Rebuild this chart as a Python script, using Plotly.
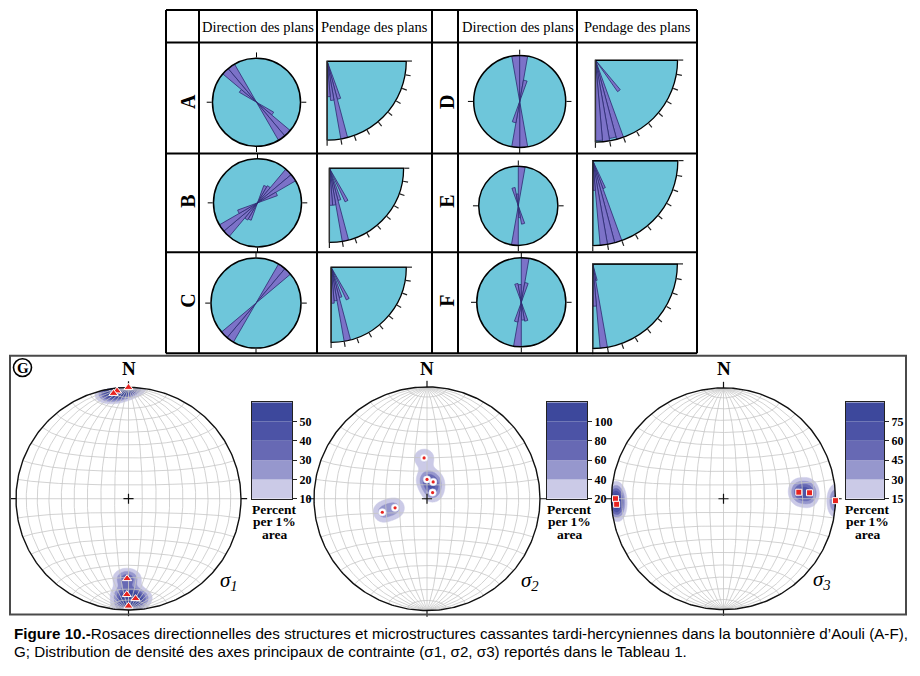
import numpy as np
import plotly.graph_objects as go

W, H = 920, 669

# ------------------------------------------------------------------ data
header_dir = "Direction des plans"
header_dip = "Pendage des plans"
row_labels_left = ["A", "B", "C"]
row_labels_right = ["D", "E", "F"]

DIR_BIN = 10   # degrees
DIP_BIN = 5    # degrees

# Direction rose petals (azimuth centre of bin, relative length); drawn bidirectionally
dir_A_az = [305, 315, 325];            dir_A_len = [0.45, 1.0, 1.0]
dir_B_az = [25, 35, 45, 55, 65];       dir_B_len = [0.42, 0.45, 1.0, 1.0, 0.48]
dir_C_az = [35, 45];                   dir_C_len = [1.0, 1.0]
dir_D_az = [355, 5, 15];               dir_D_len = [1.0, 1.0, 0.47]
dir_E_az = [345, 355, 5];              dir_E_len = [0.47, 0.3, 1.0]
dir_F_az = [345, 355, 5, 15];          dir_F_len = [0.43, 0.4, 1.0, 0.45]

# Dip rose petals (dip angle centre of bin, relative length)
dip_A_ang = [72.5, 77.5, 82.5, 87.5];        dip_A_len = [0.5, 1.0, 0.5, 0.45]
dip_B_ang = [62.5, 72.5, 77.5, 82.5, 87.5];  dip_B_len = [0.5, 0.45, 1.0, 0.5, 0.5]
dip_C_ang = [62.5, 72.5, 77.5, 82.5, 87.5];  dip_C_len = [0.48, 0.42, 1.0, 0.45, 0.48]
dip_D_ang = [52.5, 72.5, 77.5, 82.5, 87.5];  dip_D_len = [0.47, 1.0, 0.97, 1.0, 0.98]
dip_E_ang = [67.5, 72.5, 77.5, 82.5, 87.5];  dip_E_len = [0.35, 1.0, 1.0, 1.0, 0.35]
dip_F_ang = [77.5, 82.5, 87.5];              dip_F_len = [0.2, 1.0, 0.5]

# Principal stress axes (trend, plunge in degrees)
sig1_trend = [0, 354, 352, 181, 181, 176, 180]
sig1_plunge = [0, 3, 5, 29, 15, 11, 4]
sig2_trend = [356, 0, 20, 42, 253, 254]
sig2_plunge = [60, 76, 77, 84, 56, 66]
sig3_trend = [270, 267, 85, 86, 91]
sig3_plunge = [4, 5, 33, 24, 0]

levels_s1 = [10, 20, 30, 40, 50]
levels_s2 = [20, 40, 60, 80, 100]
levels_s3 = [15, 30, 45, 60, 75]

caption_1 = ("<b>Figure 10.-</b>Rosaces directionnelles des structures et microstructures "
             "cassantes tardi-hercyniennes dans la boutonnière d’Aouli (A-F),")
caption_2 = ("G; Distribution de densité des axes principaux de contrainte "
             "(σ1, σ2, σ3) reportés dans le Tableau 1.")

# ------------------------------------------------------------------ style
ROSE_FILL = "#6ec6da"
PETAL = "#7c72c8"
PETAL_LINE = "#2d2b70"
BANDS = ["#cbcae7", "#9697cd", "#6769b4", "#4c53a6", "#3d489c"]
GRID = "#c6c6c6"
SERIF = "Liberation Serif"
CAPF = "Liberation Sans"


def fx(x):
    return min(1.0, max(0.0, x / W))


def fy(y):
    return min(1.0, max(0.0, 1 - y / H))


fig = go.Figure()
layout = dict(width=W, height=H, margin=dict(l=0, r=0, t=0, b=0, pad=0),
              paper_bgcolor="white", plot_bgcolor="white", showlegend=False,
              barmode="overlay")
annotations = []
shapes = []


def label(text, x, y, size, family=SERIF, angle=0, xanchor="center"):
    annotations.append(dict(text=text, x=fx(x), y=fy(y), xref="paper", yref="paper",
                            xanchor=xanchor, yanchor="middle", showarrow=False,
                            textangle=angle, font=dict(family=family, size=size, color="black")))


# ------------------------------------------------------------------ table frame
t_left, t_right, t_top, t_bot = 166, 697, 10, 357
for y in [t_top, 43, 155, 255, t_bot]:
    shapes.append(dict(type="line", xref="paper", yref="paper", x0=fx(t_left), x1=fx(t_right),
                       y0=fy(y), y1=fy(y), line=dict(color="black", width=2)))
for x in [t_left, 199, 317, 432, 458, 577, t_right]:
    shapes.append(dict(type="line", xref="paper", yref="paper", x0=fx(x), x1=fx(x),
                       y0=fy(t_top), y1=fy(t_bot), line=dict(color="black", width=2)))

for txt, cx in [(header_dir, 258), (header_dip, 374.5), (header_dir, 517.5), (header_dip, 637)]:
    label(txt, cx, 27, 14.5)

row_y = [103, 204, 304]
for lab, y in zip(row_labels_left, row_y):
    label("<b>%s</b>" % lab, 188, y, 20, angle=-90)
for lab, y in zip(row_labels_right, row_y):
    label("<b>%s</b>" % lab, 447, y, 20, angle=-90)

# ------------------------------------------------------------------ direction / dip roses
dir_sets = [
    (dir_A_az, dir_A_len, 256.5, 103.3, 44.5),
    (dir_B_az, dir_B_len, 257.5, 205, 44.5),
    (dir_C_az, dir_C_len, 256, 306.3, 45.5),
    (dir_D_az, dir_D_len, 519.7, 102.5, 46.5),
    (dir_E_az, dir_E_len, 518.3, 208, 40),
    (dir_F_az, dir_F_len, 521.3, 305.5, 45),
]
dip_sets = [
    (dip_A_ang, dip_A_len, 326.7, 61.7, 80),
    (dip_B_ang, dip_B_len, 329, 170, 75),
    (dip_C_ang, dip_C_len, 330.7, 270, 76),
    (dip_D_ang, dip_D_len, 595, 60.7, 83),
    (dip_E_ang, dip_E_len, 592.3, 162.3, 86),
    (dip_F_ang, dip_F_len, 592.3, 266.7, 85.5),
]

pidx = 0
for az, ln, cx, cy, R in dir_sets:
    pidx += 1
    name = "polar" if pidx == 1 else "polar%d" % pidx
    theta = list(az) + [(a + 180) % 360 for a in az]
    r = list(ln) + list(ln)
    fig.add_trace(go.Barpolar(theta=theta, r=r, width=DIR_BIN, subplot=name,
                              marker=dict(color=PETAL, line=dict(color=PETAL_LINE, width=0.8)),
                              hoverinfo="skip"))
    layout[name] = dict(
        domain=dict(x=[fx(cx - R), fx(cx + R)], y=[fy(cy + R), fy(cy - R)]),
        bgcolor=ROSE_FILL, barmode="overlay",
        angularaxis=dict(rotation=90, direction="clockwise", showgrid=False,
                         tickmode="array", tickvals=[0, 90, 180, 270], ticks="outside",
                         ticklen=5, tickwidth=1, tickcolor="black", showticklabels=False,
                         linecolor="black", linewidth=1.5),
        radialaxis=dict(visible=False, range=[0, 1]))

for ang, ln, ax, ay, R in dip_sets:
    pidx += 1
    name = "polar%d" % pidx
    fig.add_trace(go.Barpolar(theta=ang, r=ln, width=DIP_BIN, subplot=name,
                              marker=dict(color=PETAL, line=dict(color=PETAL_LINE, width=0.8)),
                              hoverinfo="skip"))
    fig.add_trace(go.Scatterpolar(theta=[0, 0], r=[0, 1], mode="lines", subplot=name,
                                  line=dict(color="black", width=1.8), hoverinfo="skip"))
    layout[name] = dict(
        domain=dict(x=[fx(ax), fx(ax + R)], y=[fy(ay + R), fy(ay)]),
        sector=[-90, 0], bgcolor=ROSE_FILL, barmode="overlay",
        angularaxis=dict(rotation=0, direction="clockwise", showgrid=False,
                         tickmode="array", tickvals=list(range(0, 91, 10)), ticks="outside",
                         ticklen=5, tickwidth=1.2, tickcolor="#222", showticklabels=False,
                         linecolor="black", linewidth=1.3),
        radialaxis=dict(range=[0, 1], showgrid=False, showticklabels=False, ticks="",
                        showline=True, linecolor="#333", linewidth=1.2))

# ------------------------------------------------------------------ panel G frame
shapes.append(dict(type="rect", xref="paper", yref="paper", x0=fx(10), x1=fx(906),
                   y0=fy(621), y1=fy(359.5), line=dict(color="#4a4a4a", width=2)))
shapes.append(dict(type="circle", xref="paper", yref="paper", x0=fx(13.5), x1=fx(31.5),
                   y0=fy(380.5), y1=fy(362.5), line=dict(color="black", width=1.6)))
label("<b>G</b>", 22.5, 371.5, 15)


# ------------------------------------------------------------------ stereonets
def to_vec(trend, plunge):
    t = np.radians(np.asarray(trend, float))
    p = np.radians(np.asarray(plunge, float))
    return np.cos(p) * np.sin(t), np.cos(p) * np.cos(t), -np.sin(p)


def proj_vec(vx, vy, vz):
    s = 1.0 / np.sqrt(1.0 - vz)
    return vx * s, vy * s


def net_grid(step=10):
    xs, ys = [], []
    t = np.linspace(0, np.pi, 181)
    for d in range(step, 90, step):
        dd = np.radians(d)
        for sg in (1, -1):
            X, Y = proj_vec(sg * np.sin(t) * np.cos(dd), np.cos(t), -np.sin(t) * np.sin(dd))
            xs += list(X) + [None]
            ys += list(Y) + [None]
    for a in range(step, 90, step):
        aa = np.radians(a)
        for sg in (1, -1):
            X, Y = proj_vec(np.sin(aa) * np.cos(t), sg * np.cos(aa) * np.ones_like(t),
                            -np.sin(aa) * np.sin(t))
            xs += list(X) + [None]
            ys += list(Y) + [None]
    xs += [-1, 1, None, 0, 0, None]
    ys += [0, 0, None, -1, 1, None]
    return xs, ys


K = 115.0
AMP = 2.6
g = np.linspace(-1, 1, 321)
GX, GY = np.meshgrid(g, g)
R2 = GX ** 2 + GY ** 2
inside = R2 <= 1.0
hh = np.sqrt(np.clip(2.0 - R2, 0, None))
gvx, gvy, gvz = GX * hh, GY * hh, R2 - 1.0


def density(trend, plunge):
    px, py, pz = to_vec(trend, plunge)
    n = len(px)
    d = np.zeros_like(GX)
    for a, b, c in zip(px, py, pz):
        d += np.exp(K * (gvx * a + gvy * b + gvz * c - 1.0))
    d = d * AMP * 100.0 / n
    d[~inside] = 0.0
    return d


nets = [
    dict(tr=sig1_trend, pl=sig1_plunge, lev=levels_s1, cx=128.5, cy=504, R=112.5,
         cb=(252, 292), sym="s1", lab="<i>σ<sub>1</sub></i>", lx=229, ly=587),
    dict(tr=sig2_trend, pl=sig2_plunge, lev=levels_s2, cx=427, cy=504, R=113,
         cb=(547, 587), sym="s2", lab="<i>σ<sub>2</sub></i>", lx=530, ly=587),
    dict(tr=sig3_trend, pl=sig3_plunge, lev=levels_s3, cx=723.5, cy=504, R=112,
         cb=(846, 884), sym="s3", lab="<i>σ<sub>3</sub></i>", lx=822, ly=586),
]
gx_lines, gy_lines = net_grid(10)
circ_t = np.linspace(0, 2 * np.pi, 361)
EXT = 1.06

for i, nt in enumerate(nets):
    k = i + 1
    xa = "x" if k == 1 else "x%d" % k
    ya = "y" if k == 1 else "y%d" % k
    cx, cy, R = nt["cx"], nt["cy"], nt["R"]
    layout["xaxis" if k == 1 else "xaxis%d" % k] = dict(
        domain=[fx(cx - EXT * R), fx(cx + EXT * R)], range=[-EXT, EXT], visible=False,
        anchor=ya, fixedrange=True)
    layout["yaxis" if k == 1 else "yaxis%d" % k] = dict(
        domain=[fy(cy + EXT * R), fy(cy - EXT * R)], range=[-EXT, EXT], visible=False,
        anchor=xa, fixedrange=True)

    dens = density(nt["tr"], nt["pl"])
    for lev, col in zip(nt["lev"], BANDS):
        # constraint contours shade the region that fails the test, i.e. density > lev
        fig.add_trace(go.Contour(x=g, y=g, z=dens, xaxis=xa, yaxis=ya, showscale=False,
                                 contours=dict(type="constraint", operation="<", value=lev),
                                 fillcolor=col, line=dict(color=col, width=0.5),
                                 hoverinfo="skip"))
    fig.add_trace(go.Scatter(x=gx_lines, y=gy_lines, mode="lines", xaxis=xa, yaxis=ya,
                             line=dict(color=GRID, width=0.8), hoverinfo="skip"))
    fig.add_trace(go.Scatter(x=np.cos(circ_t), y=np.sin(circ_t), mode="lines", xaxis=xa, yaxis=ya,
                             line=dict(color="#111", width=1.4), hoverinfo="skip"))
    tk = 0.055
    fig.add_trace(go.Scatter(x=[0, 0, None, 0, 0, None, 1, 1 + tk, None, -1, -1 - tk, None,
                                -0.045, 0.045, None, 0, 0],
                             y=[1, 1 + tk, None, -1, -1 - tk, None, 0, 0, None, 0, 0, None,
                                0, 0, None, -0.045, 0.045],
                             mode="lines", xaxis=xa, yaxis=ya,
                             line=dict(color="#111", width=1.2), hoverinfo="skip"))

    X, Y = proj_vec(*to_vec(nt["tr"], nt["pl"]))
    if nt["sym"] == "s1":
        fig.add_trace(go.Scatter(x=X, y=Y, mode="markers", xaxis=xa, yaxis=ya, cliponaxis=False,
                                 marker=dict(symbol="triangle-up", size=8, color="#e8231f",
                                             line=dict(color="white", width=1)), hoverinfo="skip"))
    elif nt["sym"] == "s2":
        fig.add_trace(go.Scatter(x=X, y=Y, mode="markers", xaxis=xa, yaxis=ya, cliponaxis=False,
                                 marker=dict(symbol="circle", size=7.5, color="white",
                                             line=dict(color="#d9d9ef", width=0.5)), hoverinfo="skip"))
        fig.add_trace(go.Scatter(x=X, y=Y, mode="markers", xaxis=xa, yaxis=ya, cliponaxis=False,
                                 marker=dict(symbol="circle", size=3.2, color="#e8231f"),
                                 hoverinfo="skip"))
    else:
        fig.add_trace(go.Scatter(x=X, y=Y, mode="markers", xaxis=xa, yaxis=ya, cliponaxis=False,
                                 marker=dict(symbol="square", size=6, color="#e8231f",
                                             line=dict(color="white", width=1)), hoverinfo="skip"))

    # colour bar built from the contour levels
    kb = k + 3
    xb, yb = "x%d" % kb, "y%d" % kb
    lev = nt["lev"]
    stp = lev[1] - lev[0]
    fig.add_trace(go.Bar(x=[0] * len(lev), y=[stp] * len(lev), base=lev, width=1,
                         marker=dict(color=BANDS, line=dict(width=0)),
                         xaxis=xb, yaxis=yb, hoverinfo="skip"))
    x0b, x1b = nt["cb"]
    layout["xaxis%d" % kb] = dict(domain=[fx(x0b), fx(x1b)], range=[-0.5, 0.5], anchor=yb,
                                  showline=True, mirror=True, linecolor="#222", linewidth=1,
                                  showticklabels=False, ticks="", showgrid=False, zeroline=False,
                                  fixedrange=True)
    layout["yaxis%d" % kb] = dict(domain=[fy(504), fy(406.5)], range=[lev[0], lev[-1] + stp],
                                  anchor=xb, side="right", tickmode="array", tickvals=lev,
                                  ticks="outside", ticklen=4, tickcolor="#222",
                                  showline=True, mirror=True, linecolor="#222", linewidth=1,
                                  showgrid=False, zeroline=False, fixedrange=True,
                                  tickfont=dict(family=SERIF, size=12, color="black", weight="bold"))
    cxb = (x0b + x1b) / 2 + 2
    for txt, yy in [("Percent", 515), ("per 1%", 527.5), ("area", 540)]:
        label("<b>%s</b>" % txt, cxb, yy, 13.5)
    label("<b>N</b>", cx, 372, 19)
    label(nt["lab"], nt["lx"], nt["ly"], 21)

# ------------------------------------------------------------------ caption
label(caption_1, 12, 640, 15.2, family=CAPF, xanchor="left")
label(caption_2, 12, 658, 15.2, family=CAPF, xanchor="left")

layout["annotations"] = annotations
layout["shapes"] = shapes
fig.update_layout(**layout)
fig.write_html(
    "out.html",
    config={"displayModeBar": False, "staticPlot": True},
    post_script=("document.documentElement.style.margin='0';"
                 "document.body.style.margin='0';"
                 "document.documentElement.style.overflow='hidden';"
                 "document.body.style.overflow='hidden';"))
